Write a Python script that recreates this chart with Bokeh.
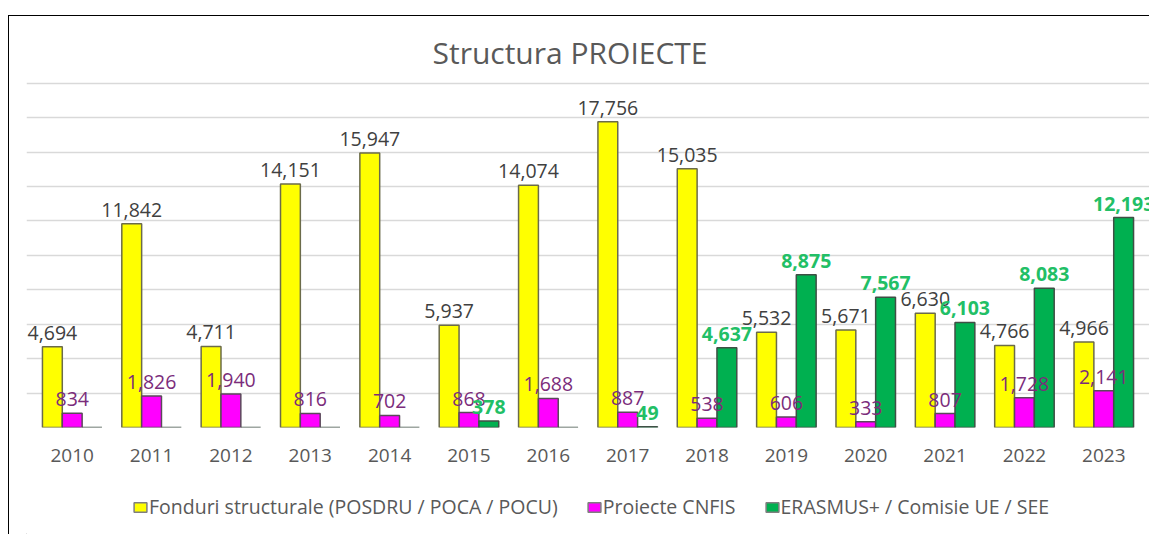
from bokeh.plotting import figure
from bokeh.models import ColumnDataSource, Range1d, Legend, LegendItem, FixedTicker
from bokeh.layouts import column
from bokeh.embed import file_html
from bokeh.resources import INLINE
from bokeh.core.properties import value
from bokeh.transform import dodge

years = ["2010", "2011", "2012", "2013", "2014", "2015", "2016",
         "2017", "2018", "2019", "2020", "2021", "2022", "2023"]
fonduri = [4694, 11842, 4711, 14151, 15947, 5937, 14074, 17756, 15035, 5532, 5671, 6630, 4766, 4966]
cnfis = [834, 1826, 1940, 816, 702, 868, 1688, 887, 538, 606, 333, 807, 1728, 2141]
erasmus = [0, 0, 0, 0, 0, 378, 0, 49, 4637, 8875, 7567, 6103, 8083, 12193]
series_names = ["Fonduri structurale (POSDRU / POCA / POCU)", "Proiecte CNFIS",
                "ERASMUS+ / Comisie UE / SEE"]
colors = ["#FFFF00", "#FF00FF", "#00B050"]
outlines = ["#6b6b4a", "#5a4a5a", "#3f4f45"]

FONT = "Open Sans"

def lab(v):
    return [f"{x:,}" if x > 0 else "" for x in v]

xi = list(range(len(years)))
src = ColumnDataSource(dict(
    xi=xi, years=years, fonduri=fonduri, cnfis=cnfis, erasmus=erasmus,
    l_f=lab(fonduri), l_c=lab(cnfis), l_e=lab(erasmus),
))

p = figure(x_range=Range1d(-0.576, len(years) - 1 + 0.576), y_range=Range1d(0, 20100),
           width=1140, height=464, output_backend="svg", toolbar_location=None,
           min_border_left=17, min_border_right=0, min_border_top=65, min_border_bottom=53,
           title="Structura PROIECTE")

p.title.align = "left"
p.title.offset = 406
p.title.text_font = FONT
p.title.text_font_size = "30px"
p.title.text_font_style = "normal"
p.title.text_color = "#595959"
p.title.standoff = 17

p.outline_line_color = None
p.background_fill_color = "white"
p.border_fill_color = "white"

w = 0.25
r1 = p.vbar(x=dodge("xi", -0.25), top="fonduri", width=w, source=src,
            fill_color=colors[0], line_color=outlines[0], line_width=1.5)
r2 = p.vbar(x=dodge("xi", 0.0), top="cnfis", width=w, source=src,
            fill_color=colors[1], line_color=outlines[1], line_width=1.5)
r3 = p.vbar(x=dodge("xi", 0.25), top="erasmus", width=w, source=src,
            fill_color=colors[2], line_color=outlines[2], line_width=1.5)

p.text(x=dodge("xi", -0.25), y="fonduri", text="l_f", source=src,
       text_align="center", text_baseline="bottom", y_offset=-7,
       text_font=value(FONT), text_font_size="19.5px", text_color="#404040")
p.text(x=dodge("xi", 0.0), y="cnfis", text="l_c", source=src,
       text_align="center", text_baseline="bottom", y_offset=-7,
       text_font=value(FONT), text_font_size="19.5px", text_color="#7B2C7B")
p.text(x=dodge("xi", 0.25), y="erasmus", text="l_e", source=src,
       text_align="center", text_baseline="bottom", y_offset=-7,
       text_font=value(FONT), text_font_size="19.5px", text_color="#22BF66",
       text_font_style="bold")

p.yaxis.visible = False
p.ygrid.ticker = FixedTicker(ticks=list(range(0, 20001, 2000)))
p.ygrid.grid_line_color = "#d9d9d9"
p.ygrid.grid_line_width = 1.5
p.xgrid.grid_line_color = None

p.xaxis.ticker = FixedTicker(ticks=xi)
p.xaxis.major_label_overrides = {i: y for i, y in zip(xi, years)}
p.xaxis.axis_line_color = None
p.xaxis.major_tick_line_color = None
p.xaxis.minor_tick_line_color = None
p.xaxis.major_label_text_font = FONT
p.xaxis.major_label_text_font_size = "19px"
p.xaxis.major_label_text_color = "#595959"
p.xaxis.major_label_standoff = 15

# legend strip below the chart
p2 = figure(width=1140, height=54, output_backend="svg", toolbar_location=None,
            x_range=Range1d(0, 1), y_range=Range1d(0, 1),
            x_axis_type=None, y_axis_type=None,
            min_border_left=0, min_border_right=0, min_border_top=0, min_border_bottom=0)
p2.outline_line_color = None
p2.xgrid.grid_line_color = None
p2.ygrid.grid_line_color = None
lr = [p2.vbar(x=[-5], top=[-5], bottom=[-6], width=0.1, fill_color=c,
              line_color="#7f7f7f", line_width=1.5)
      for c in colors]
legend = Legend(items=[LegendItem(label=n, renderers=[r]) for n, r in zip(series_names, lr)],
                orientation="horizontal", location=(106, 14),
                label_text_font=FONT, label_text_font_size="19.5px", label_text_color="#595959",
                glyph_width=16, glyph_height=12, label_standoff=1, spacing=28,
                border_line_color=None, background_fill_alpha=0, margin=0, padding=4)
p2.add_layout(legend, "center")

layout = column(p, p2, spacing=0)
layout.margin = (15, 0, 0, 8)
layout.styles = {"border-left": "1px solid #000000", "border-top": "1px solid #000000"}

open("out.html", "w").write(file_html(layout, INLINE))
